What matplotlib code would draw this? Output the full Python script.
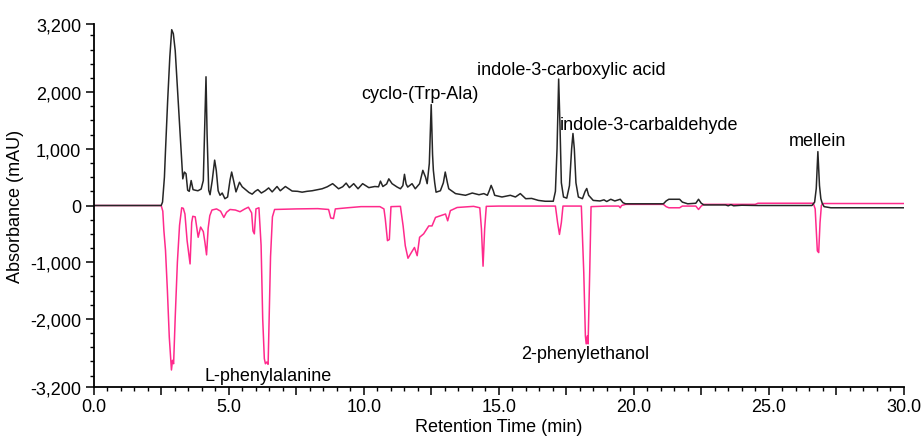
import matplotlib
matplotlib.use("Agg")
import matplotlib.pyplot as plt
from matplotlib.ticker import MultipleLocator, FixedLocator

plt.rcParams['font.family'] = ['Liberation Sans', 'DejaVu Sans']

# black trace (upper chromatogram), time in min, absorbance in mAU
upper_t = [0.0, 2.50, 2.55, 2.62, 2.66, 2.74, 2.82, 2.89, 2.95, 3.02, 3.10,
           3.18, 3.25, 3.30, 3.36, 3.42, 3.48, 3.54, 3.61, 3.68, 3.76, 3.86,
           3.98, 4.06, 4.11, 4.16, 4.20, 4.26, 4.31, 4.39, 4.48, 4.54, 4.61,
           4.68, 4.76, 4.86, 4.96, 5.05, 5.11, 5.19, 5.27, 5.34, 5.40, 5.50,
           5.60, 5.75, 5.87, 5.98, 6.08, 6.21, 6.35, 6.48, 6.61, 6.79, 6.91,
           7.10, 7.35, 7.55, 7.72, 7.90, 8.09, 8.30, 8.46, 8.65, 8.85, 9.07,
           9.22, 9.35, 9.47, 9.63, 9.79, 9.96, 10.19, 10.41, 10.55, 10.62,
           10.71, 10.85, 10.93, 11.05, 11.24, 11.36, 11.45, 11.51, 11.57,
           11.63, 11.79, 11.91, 12.07, 12.19, 12.29, 12.35, 12.43, 12.50,
           12.55, 12.58, 12.63, 12.68, 12.84, 12.95, 13.02, 13.10, 13.15,
           13.40, 13.77, 14.02, 14.27, 14.45, 14.58, 14.65, 14.72, 14.80,
           14.85, 15.12, 15.43, 15.62, 15.80, 16.00, 16.22, 16.47, 16.72,
           17.02, 17.10, 17.16, 17.22, 17.27, 17.32, 17.40, 17.52, 17.62,
           17.70, 17.75, 17.80, 17.86, 17.95, 18.10, 18.20, 18.26, 18.33,
           18.50, 18.75, 18.90, 19.00, 19.15, 19.30, 19.50, 19.60, 19.70,
           21.10, 21.20, 21.30, 21.70, 21.80, 22.00, 22.30, 22.40, 22.50,
           22.60, 23.40, 23.50, 23.60, 23.70, 24.00, 24.60, 26.60, 26.70,
           26.76, 26.82, 26.88, 26.93, 26.98, 27.05, 27.30, 30.0]
upper_y = [0, 0, 60, 500, 970, 1850, 2620, 3100, 3030, 2730, 2080,
           1440, 850, 470, 590, 560, 270, 250, 440, 280, 270, 260,
           290, 440, 1380, 2270, 1260, 270, 190, 440, 800, 620, 260,
           180, 220, 120, 150, 450, 590, 420, 240, 330, 410, 330,
           290, 230, 200, 250, 280, 220, 260, 310, 240, 335, 260,
           335, 255, 250, 235, 250, 260, 280, 295, 330, 385, 295,
           330, 395, 315, 385, 295, 385, 315, 335, 330, 430,
           335, 380, 470, 385, 325, 295, 350, 550, 380,
           325, 385, 295, 385, 620, 500, 385, 740, 1780,
           900, 620, 400, 235, 260, 400, 590, 400, 295,
           210, 180, 220, 190, 210, 180, 260, 355, 260,
           180, 150, 180, 150, 210, 120, 125, 90, 75,
           75, 250, 1000, 2230, 1400, 400, 150, 130, 350,
           1000, 1270, 1000, 400, 150, 120, 250, 300, 180,
           90, 80, 100, 70, 110, 80, 110, 50, 30,
           30, 80, 110, 110, 60, 30, 40, 110, 40,
           10, 10, -5, 15, -5, 5, 0, 0, 60,
           300, 950, 350, 120, 40, -20, -40, -40]

# magenta trace (lower, inverted chromatogram)
lower_t = [0.0, 2.50, 2.56, 2.60, 2.66, 2.73, 2.80, 2.88, 2.92, 2.96, 3.02,
           3.10, 3.18, 3.26, 3.32, 3.38, 3.46, 3.57, 3.63, 3.67, 3.76, 3.87,
           3.96, 4.06, 4.12, 4.18, 4.24, 4.30, 4.38, 4.55, 4.70, 4.82, 4.92,
           5.05, 5.25, 5.42, 5.60, 5.73, 5.85, 5.90, 5.95, 6.01, 6.12, 6.20,
           6.26, 6.32, 6.36, 6.41, 6.46, 6.55, 6.62, 6.70, 7.50, 8.30, 8.70,
           8.78, 8.88, 8.95, 9.40, 9.90, 10.60, 10.75, 10.80, 10.88, 10.95,
           11.01, 11.36, 11.46, 11.54, 11.64, 11.70, 11.77, 11.88, 11.98,
           12.07, 12.22, 12.41, 12.53, 12.66, 12.84, 13.03, 13.11, 13.21,
           13.46, 14.07, 14.30, 14.36, 14.42, 14.48, 14.54, 15.00, 17.10,
           17.18, 17.25, 17.32, 17.38, 18.06, 18.15, 18.21, 18.24, 18.28,
           18.31, 18.37, 18.42, 19.00, 19.45, 19.50, 19.55, 19.70, 21.10,
           21.20, 21.30, 21.70, 21.80, 22.30, 22.40, 22.50, 22.60, 24.50,
           24.60, 26.65, 26.72, 26.80, 26.85, 26.90, 26.95, 27.00, 30.0]
lower_y = [0, 0, -100, -440, -790, -1500, -2320, -2900, -2730, -2790, -1970,
           -1000, -350, -40, -50, -150, -620, -1030, -300, -190, -200, -560,
           -380, -460, -650, -870, -400, -180, -80, -60, -100, -210, -120,
           -70, -80, -110, -60, -30, -130, -450, -500, -60, -40, -700,
           -2000, -2700, -2790, -2760, -2800, -900, -200, -70, -60, -55, -70,
           -220, -230, -60, -40, -20, -20, -60, -240, -620, -600,
           -20, -15, -360, -710, -930, -880, -825, -740, -885,
           -560, -500, -360, -360, -210, -180, -150, -270, -90,
           -35, -15, -40, -410, -1070, -410, -15, -10, -10,
           -300, -510, -300, -10, -10, -1180, -2300, -2440, -2300,
           -2440, -1180, -20, -10, -10, -40, 0, 20, 20,
           -20, -40, -40, -10, -10, -70, -10, 20, 20,
           40, 40, -60, -800, -830, -300, 0, 35, 35]

# peak labels
label_text = ["cyclo-(Trp-Ala)", "indole-3-carboxylic acid", "indole-3-carbaldehyde",
              "mellein", "L-phenylalanine", "2-phenylethanol"]
label_t = [12.1, 17.69, 20.58, 26.8, 6.47, 18.2]
label_y = [1975, 2400, 1430, 1146, -3000, -2610]

ytick_vals = [-3200, -2000, -1000, 0, 1000, 2000, 3200]
ytick_text = ["-3,200", "-2,000", "-1,000", "0", "1,000", "2,000", "3,200"]

fig = plt.figure(figsize=(9.22, 4.39), dpi=100)
ax = fig.add_axes([0.1016, 0.1162, 0.8786, 0.8268])

ax.plot(lower_t, lower_y, color='#ff2a8c', lw=1.1)
ax.plot(upper_t, upper_y, color='#262626', lw=1.1)

for txt, t, y in zip(label_text, label_t, label_y):
    ax.text(t, y, txt, ha='center', va='center', fontsize=13, color='black')

ax.set_xlim(0, 30)
ax.set_ylim(-3200, 3200)

ax.xaxis.set_major_locator(MultipleLocator(2.5))
ax.xaxis.set_minor_locator(MultipleLocator(0.5))
ax.xaxis.set_major_formatter(lambda v, p: f"{v:.1f}" if abs(v / 5 - round(v / 5)) < 1e-6 else "")
ax.yaxis.set_major_locator(FixedLocator(ytick_vals))
ax.set_yticklabels(ytick_text)
ax.yaxis.set_minor_locator(FixedLocator([v for v in range(-3000, 3001, 250)]))

ax.tick_params(which='major', direction='out', length=6, width=1.1, labelsize=13, pad=2)
ax.tick_params(which='minor', direction='out', length=3, width=1.0)
ax.tick_params(axis='y', which='major', pad=3)

for side in ['top', 'right']:
    ax.spines[side].set_visible(False)
for side in ['left', 'bottom']:
    ax.spines[side].set_linewidth(1.3)

ax.set_xlabel("Retention Time (min)", fontsize=13, labelpad=2)
ax.set_ylabel("Absorbance (mAU)", fontsize=13, labelpad=4)

fig.savefig("out.png", dpi=100)
